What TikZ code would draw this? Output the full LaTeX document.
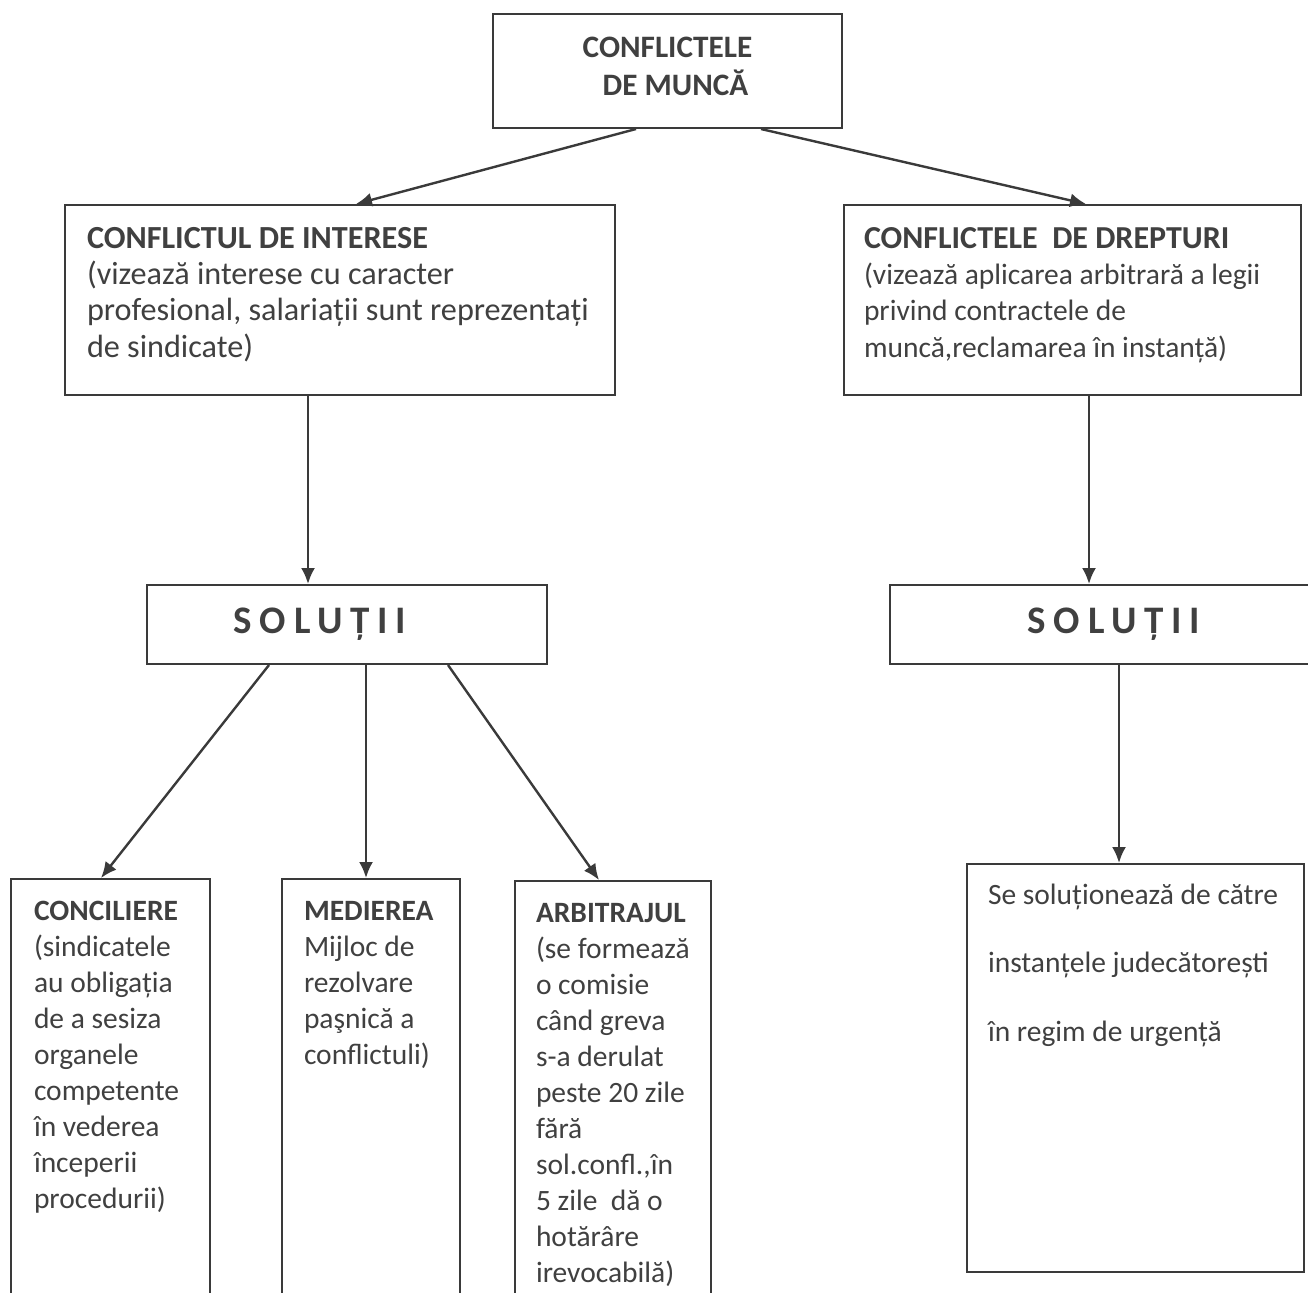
\documentclass[tikz,border=0pt]{standalone}
\usepackage{fontspec}
\setmainfont{Carlito}
\usepackage{tikz}
\usetikzlibrary{arrows.meta,positioning}
\definecolor{ink}{HTML}{404040}
\definecolor{rule}{HTML}{3A3A3A}

\begin{document}
\begin{tikzpicture}[x=0.5pt, y=-0.5pt,
    topic/.style={rectangle, draw=rule, line width=1pt, text=ink, anchor=north west,
        font=\bfseries\fontsize{15.6}{19}\selectfont, align=flush center,
        text width=170pt, inner xsep=2.25pt, inner ysep=0pt, text height=21.5pt, text depth=35.5pt},
    branch/.style={rectangle, draw=rule, line width=1pt, text=ink, anchor=north west,
        font=\fontsize{14.75}{18.2}\selectfont, align=flush left,
        inner ysep=0pt, text height=21.5pt, text depth=73.5pt},
    solution/.style={rectangle, draw=rule, line width=1pt, text=ink, anchor=north west,
        font=\bfseries\fontsize{19.5}{22}\selectfont\addfontfeature{LetterSpace=20},
        minimum height=39.5pt, inner sep=0pt},
    way/.style={rectangle, draw=rule, line width=1pt, text=ink, anchor=north west,
        font=\fontsize{14.75}{18}\selectfont, align=flush left,
        inner ysep=0pt, text height=20.5pt, text depth=195.5pt},
    court/.style={rectangle, draw=rule, line width=1pt, text=ink, anchor=north west,
        font=\fontsize{14.75}{34.25}\selectfont, align=flush left,
        text width=147.5pt, inner xsep=10.5pt, inner ysep=0pt, text height=20pt, text depth=184pt},
    link/.style={draw=rule, line width=1.2pt, ->, >={Latex[length=8pt,width=7pt]}}
    ]
    \useasboundingbox (0,0) rectangle (1308,1292);
    \clip (0,0) rectangle (1308,1292);

    \node (Munca) [topic] at (492,13) {CONFLICTELE\\\hspace*{8pt}DE MUNCĂ};

    \node (Interese) [branch, text width=253pt, inner xsep=11pt, font=\fontsize{16.1}{18.2}\selectfont] at (64,204)
        {\textbf{CONFLICTUL DE INTERESE}\\(vizează interese cu caracter\\profesional, salariații sunt reprezentați\\de sindicate)};
    \node (Drepturi) [branch, text width=208.5pt, inner xsep=10pt] at (843,204)
        {\textbf{\fontsize{16}{18.2}\selectfont CONFLICTELE\ \ DE DREPTURI}\\(vizează aplicarea arbitrară a legii\\privind contractele de\\muncă,reclamarea în instanță)};

    \node (Solutii1) [solution, minimum width=200pt] at (146,584) {SOLUȚII\hspace*{27pt}};
    \node (Solutii2) [solution, minimum width=215.5pt] at (889,584) {\hspace*{8.5pt}SOLUȚII};

    \node (Conciliere) [way, text width=76.5pt, inner xsep=11.5pt] at (10,878)
        {\textbf{CONCILIERE}\\(sindicatele\\au obligația\\de a sesiza\\organele\\competente\\în vederea\\începerii\\procedurii)};
    \node (Medierea) [way, text width=67pt, inner xsep=11pt] at (281,878)
        {\textbf{MEDIEREA}\\Mijloc de\\rezolvare\\paşnică a\\conflictuli)};
    \node (Arbitrajul) [way, text width=77pt, inner xsep=10.5pt, text depth=194.5pt] at (514,880)
        {\textbf{ARBITRAJUL}\\\mbox{(se formează}\\o comisie\\când greva\\s-a derulat\\peste 20 zile\\fără\\sol.confl.,în\\5 zile\ \ dă o\\hotărâre\\irevocabilă)};

    \node (Instante) [court] at (966,863)
        {Se soluționează de către\\instanțele judecătorești\\în regim de urgență};

    % legaturi
    \draw[link] ([xshift=-15.75pt]Munca.south) -- ([xshift=8pt]Interese.north);
    \draw[link] ([xshift=46.75pt]Munca.south) -- ([xshift=6.75pt]Drepturi.north);
    \draw[link] ([xshift=-16pt]Interese.south) -- ([xshift=-19.5pt]Solutii1.north);
    \draw[link] ([xshift=8.25pt]Drepturi.south) -- ([xshift=-8.25pt]Solutii2.north);
    \draw[link] ([xshift=-39pt]Solutii1.south) -- ([xshift=-4.75pt]Conciliere.north);
    \draw[link] ([xshift=9.5pt]Solutii1.south) -- ([xshift=-2.5pt]Medierea.north);
    \draw[link] ([xshift=50.5pt]Solutii1.south) -- ([xshift=-7pt]Arbitrajul.north);
    \draw[link] ([xshift=6.75pt]Solutii2.south) -- ([xshift=-8.25pt]Instante.north);
\end{tikzpicture}
\end{document}
